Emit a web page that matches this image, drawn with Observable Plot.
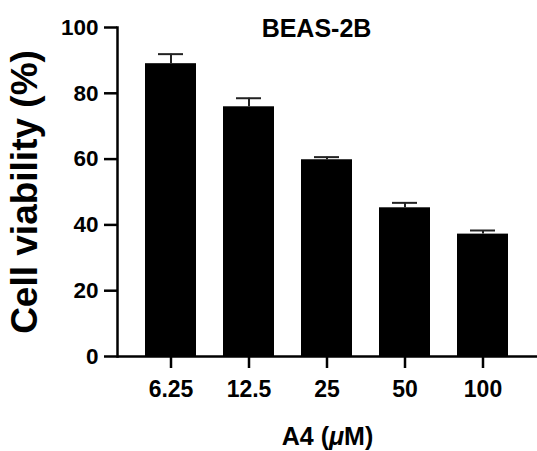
<!DOCTYPE html>
<html>
<head>
<meta charset="utf-8">
<script src="https://cdn.jsdelivr.net/npm/d3@7"></script>
<script src="https://cdn.jsdelivr.net/npm/@observablehq/plot@0.6"></script>
<style>
  html, body { margin: 0; padding: 0; background: #fff; }
  svg { display: block; }
</style>
</head>
<body>
<div id="chart"></div>
<script>
const doses = ["6.25", "12.5", "25", "50", "100"];
const means = [89.0, 75.9, 59.8, 45.2, 37.2];
const sds = [2.9, 2.6, 0.8, 1.5, 1.1];
const yTicks = [0, 20, 40, 60, 80, 100];
const title = "BEAS-2B";
const yLabel = "Cell viability (%)";
const xLabel = "A4 (μM)";

const data = doses.map((d, i) => ({dose: d, mean: means[i], sd: sds[i]}));
const font = "'Liberation Sans', Arial, Helvetica, sans-serif";

const chart = Plot.plot({
  width: 537,
  height: 451,
  marginLeft: 117,
  marginRight: 0,
  marginTop: 27,
  marginBottom: 95,
  style: {fontFamily: font, background: "#fff", color: "#000"},
  x: {domain: doses, paddingInner: 0.34, paddingOuter: 0.33, axis: null},
  y: {domain: [0, 100], axis: null},
  marks: [
    Plot.barY(data, {x: "dose", y: "mean", fill: "#000"}),
    Plot.ruleX(data, {x: "dose", y1: "mean", y2: d => d.mean + d.sd, stroke: "#222", strokeWidth: 2}),
    Plot.tickY(data, {x: "dose", y: d => d.mean + d.sd, stroke: "#222", strokeWidth: 2, insetLeft: 13, insetRight: 13}),
    Plot.axisY({ticks: yTicks, tickSize: 13, tickPadding: 6, strokeWidth: 2.5, fontSize: 22.5, fontWeight: "bold", label: null}),
    Plot.axisX({tickSize: 12, tickPadding: 12, strokeWidth: 2.5, fontSize: 23, fontWeight: "bold", label: null}),
    Plot.ruleY([0], {strokeWidth: 2.5}),
    Plot.frame({anchor: "left", strokeWidth: 2.5}),
    Plot.text([yLabel], {text: d => d, frameAnchor: "left", rotate: -90, dx: -92, fontSize: 37, fontWeight: "bold", textAnchor: "middle", lineAnchor: "middle"}),
    Plot.text([xLabel], {text: d => d, frameAnchor: "bottom", dy: 80, fontSize: 25, fontWeight: "bold", textAnchor: "middle", lineAnchor: "middle"}),
    Plot.text([title], {text: d => d, frameAnchor: "top", dx: -11, dy: 9, fontSize: 25, fontWeight: "bold", textAnchor: "middle", lineAnchor: "bottom"})
  ]
});
document.getElementById("chart").appendChild(chart);

// Italicise the micro sign in the x-axis title
d3.select(chart).selectAll("text").each(function() {
  const t = d3.select(this);
  if (t.text() === xLabel) {
    t.text(null);
    t.append("tspan").text("A4 (");
    t.append("tspan").attr("font-style", "italic").text("μ");
    t.append("tspan").text("M)");
  }
});
</script>
</body>
</html>
